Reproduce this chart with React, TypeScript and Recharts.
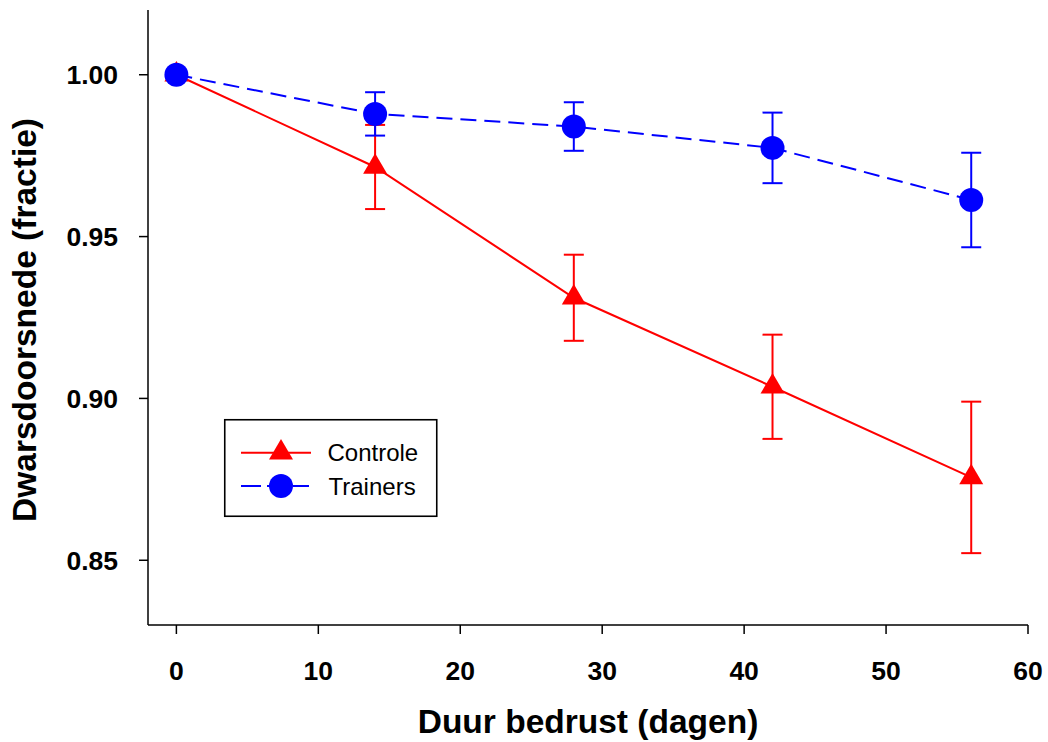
import React from 'react';
import { LineChart, Line, XAxis, YAxis, ErrorBar, Label } from 'recharts';

const days = [0, 14, 28, 42, 56];
const controle = [1.0, 0.9715, 0.9311, 0.9036, 0.8756];
const controleErr = [0, 0.013, 0.0133, 0.0161, 0.0234];
const trainers = [1.0, 0.9879, 0.984, 0.9774, 0.9613];
const trainersErr = [0, 0.0067, 0.0075, 0.0109, 0.0146];
const xTicks = [0, 10, 20, 30, 40, 50, 60];
const yTicks = [0.85, 0.9, 0.95, 1.0];
const seriesNames = ['Controle', 'Trainers'];
const xTitle = 'Duur bedrust (dagen)';
const yTitle = 'Dwarsdoorsnede (fractie)';

const RED = '#ff0000';
const BLUE = '#0000ff';
const FONT = '"Liberation Sans", Arial, sans-serif';

const data = days.map((d, i) => ({
  day: d,
  controle: controle[i],
  controleErr: controleErr[i],
  trainers: trainers[i],
  trainersErr: trainersErr[i],
}));

const TRI_W = 24;
const TRI_H = 20.5;

const trianglePath = (cx: number, cy: number) =>
  `M${cx},${cy - (2 * TRI_H) / 3} L${cx + TRI_W / 2},${cy + TRI_H / 3} L${cx - TRI_W / 2},${cy + TRI_H / 3} Z`;

const renderTriangle = (props: any) => {
  const { cx, cy, index } = props;
  if (cx == null || cy == null) return <g key={`t-${index}`} />;
  return <path key={`t-${index}`} d={trianglePath(cx, cy)} fill={RED} />;
};

const renderCircle = (props: any) => {
  const { cx, cy, index } = props;
  if (cx == null || cy == null) return <g key={`c-${index}`} />;
  return <circle key={`c-${index}`} cx={cx} cy={cy} r={12} fill={BLUE} />;
};

const tickStyle = { fill: '#000', fontSize: 26.5, fontWeight: 'bold', fontFamily: FONT };

const XTitle = () => (
  <text
    x={588}
    y={733}
    textAnchor="middle"
    fill="#000"
    style={{ fontSize: 33.5, fontWeight: 'bold', fontFamily: FONT }}
  >
    {xTitle}
  </text>
);

const YTitle = () => (
  <text
    transform="translate(36 320) rotate(-90)"
    x={0}
    y={0}
    textAnchor="middle"
    fill="#000"
    style={{ fontSize: 33.5, fontWeight: 'bold', fontFamily: FONT }}
  >
    {yTitle}
  </text>
);

const LegendBox = () => (
  <svg
    width={216}
    height={100}
    style={{ position: 'absolute', left: 223, top: 418, overflow: 'visible' }}
  >
    <rect x={1.75} y={1.75} width={212} height={96.5} fill="#fff" stroke="#000" strokeWidth={1.6} />
    <line x1={18} y1={34.7} x2={88} y2={34.7} stroke={RED} strokeWidth={2} />
    <path d={trianglePath(58, 34.7)} fill={RED} />
    <text x={104.5} y={43} fill="#000" style={{ fontSize: 24, fontFamily: FONT }}>
      {seriesNames[0]}
    </text>
    <line x1={18} y1={68} x2={86} y2={68} stroke={BLUE} strokeWidth={2} strokeDasharray="20 6" />
    <circle cx={58} cy={68} r={12} fill={BLUE} />
    <text x={105.5} y={77} fill="#000" style={{ fontSize: 24, fontFamily: FONT }}>
      {seriesNames[1]}
    </text>
  </svg>
);

export default function App() {
  return (
    <div style={{ position: 'relative', width: 1048, height: 742 }}>
      <style>{'body{margin:0}.recharts-surface{overflow:visible !important}'}</style>
      <LineChart
        width={1048}
        height={742}
        data={data}
        margin={{ top: 10, right: 20, bottom: 0, left: 0 }}
      >
        <XAxis
          dataKey="day"
          type="number"
          domain={[-2, 60]}
          ticks={xTicks}
          interval={0}
          allowDataOverflow
          height={117}
          tickSize={9}
          tickMargin={27}
          tick={tickStyle}
          axisLine={{ stroke: '#000', strokeWidth: 1.5 }}
          tickLine={{ stroke: '#000', strokeWidth: 1.5 }}
        >
          <Label content={XTitle} />
        </XAxis>
        <YAxis
          type="number"
          domain={[0.83, 1.02]}
          ticks={yTicks}
          interval={0}
          allowDataOverflow
          width={148}
          tickSize={9}
          tickMargin={21}
          tick={tickStyle}
          tickFormatter={(v: number) => v.toFixed(2)}
          axisLine={{ stroke: '#000', strokeWidth: 1.5 }}
          tickLine={{ stroke: '#000', strokeWidth: 1.5 }}
        >
          <Label content={YTitle} />
        </YAxis>
        <Line
          dataKey="controle"
          name={seriesNames[0]}
          stroke={RED}
          strokeWidth={2}
          dot={renderTriangle}
          activeDot={false}
          isAnimationActive={false}
        >
          <ErrorBar
            dataKey="controleErr"
            direction="y"
            width={10}
            stroke={RED}
            strokeWidth={2}
            isAnimationActive={false}
          />
        </Line>
        <Line
          dataKey="trainers"
          name={seriesNames[1]}
          stroke={BLUE}
          strokeWidth={2}
          strokeDasharray="16 8"
          dot={renderCircle}
          activeDot={false}
          isAnimationActive={false}
        >
          <ErrorBar
            dataKey="trainersErr"
            direction="y"
            width={10}
            stroke={BLUE}
            strokeWidth={2}
            isAnimationActive={false}
          />
        </Line>
      </LineChart>
      <LegendBox />
    </div>
  );
}
